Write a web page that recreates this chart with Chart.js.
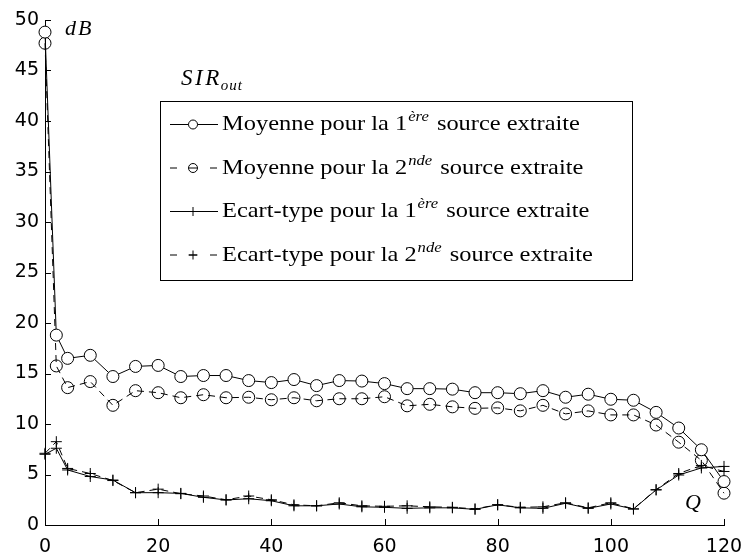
<!DOCTYPE html>
<html>
<head>
<meta charset="utf-8">
<title>SIR out</title>
<script src="https://cdn.jsdelivr.net/npm/chart.js@4"></script>
<style>
  body { margin: 0; background: #fff; }
  #wrap { width: 744px; height: 553px; position: relative; }
</style>
</head>
<body>
<div id="wrap"><canvas id="chart" width="744" height="553"></canvas></div>
<script>
// Q values (x axis)
const qValues = [0, 2, 4, 8, 12, 16, 20, 24, 28, 32, 36, 40, 44, 48, 52, 56, 60, 64, 68, 72, 76, 80, 84, 88, 92, 96, 100, 104, 108, 112, 116, 120];

// SIR_out in dB
const mean1 = [48.8, 18.8, 16.5, 16.8, 14.7, 15.7, 15.8, 14.7, 14.8, 14.8, 14.3, 14.1, 14.4, 13.8, 14.3, 14.25, 14.0, 13.5, 13.5, 13.45, 13.1, 13.1, 13.0, 13.3, 12.65, 12.95, 12.45, 12.35, 11.15, 9.6, 7.45, 4.3];
const mean2 = [47.7, 15.75, 13.6, 14.2, 11.85, 13.3, 13.1, 12.6, 12.9, 12.6, 12.65, 12.4, 12.6, 12.3, 12.5, 12.5, 12.7, 11.8, 11.95, 11.7, 11.55, 11.6, 11.3, 11.85, 11.0, 11.3, 10.9, 10.9, 9.9, 8.2, 6.4, 3.15];
const std1 = [7.0, 7.6, 5.45, 4.8, 4.45, 3.2, 3.2, 3.13, 2.74, 2.48, 2.6, 2.4, 1.9, 1.9, 2.08, 1.8, 1.75, 1.65, 1.7, 1.7, 1.55, 2.0, 1.7, 1.65, 2.15, 1.65, 2.08, 1.58, 3.47, 4.95, 5.65, 5.8];
const std2 = [7.1, 8.25, 5.6, 5.1, 4.4, 3.2, 3.55, 3.1, 2.87, 2.5, 2.87, 2.5, 2.0, 1.9, 2.2, 1.9, 1.85, 1.9, 1.8, 1.75, 1.6, 2.0, 1.75, 1.8, 2.2, 1.7, 2.2, 1.6, 3.5, 5.1, 5.9, 5.3];

const xTicks = [0, 20, 40, 60, 80, 100, 120];
const yTicks = [0, 5, 10, 15, 20, 25, 30, 35, 40, 45, 50];

// legend rows: [main text, superscript, rest, dashed?, marker]
const legendRows = [
  ['Moyenne pour la 1', 'ère', ' source extraite', false, 'circle'],
  ['Moyenne pour la 2', 'nde', ' source extraite', true, 'circle'],
  ['Ecart-type pour la 1', 'ère', ' source extraite', false, 'cross'],
  ['Ecart-type pour la 2', 'nde', ' source extraite', true, 'cross']
];

const pts = arr => qValues.map((q, i) => ({ x: q, y: arr[i] }));
const DASH = [7, 5];
const SERIF = '"Liberation Serif", "DejaVu Serif", serif';
const TEXT_SX = 1.11; // legend text is wider than Times

const datasets = [
  { label: 'mean1', data: pts(mean1), borderDash: [], pointStyle: 'circle', pointRadius: 6, pointBackgroundColor: '#fff' },
  { label: 'mean2', data: pts(mean2), borderDash: DASH, pointStyle: 'circle', pointRadius: 6, pointBackgroundColor: 'rgba(0,0,0,0)' },
  { label: 'std1', data: pts(std1), borderDash: [], pointStyle: 'cross', pointRadius: 5.5, pointBackgroundColor: 'rgba(0,0,0,0)' },
  { label: 'std2', data: pts(std2), borderDash: DASH, pointStyle: 'cross', pointRadius: 5.5, pointBackgroundColor: 'rgba(0,0,0,0)' }
].map(d => Object.assign(d, {
  borderColor: '#000', borderWidth: 1, pointBorderColor: '#000', pointBorderWidth: 1,
  tension: 0, fill: false, clip: false, pointHoverRadius: 6
}));

function drawMarker(ctx, style, x, y, r) {
  ctx.beginPath();
  if (style === 'circle') {
    ctx.arc(x, y, r, 0, Math.PI * 2);
  } else {
    ctx.moveTo(x - r, y); ctx.lineTo(x + r, y);
    ctx.moveTo(x, y - r); ctx.lineTo(x, y + r);
  }
  ctx.stroke();
}

// text drawn stretched horizontally, returns advance in px
function wideText(ctx, str, x, y, sx) {
  ctx.save();
  ctx.translate(x, y);
  ctx.scale(sx, 1);
  ctx.fillText(str, 0, 0);
  const w = ctx.measureText(str).width * sx;
  ctx.restore();
  return w;
}

// math italic letters with extra spacing
function mathText(ctx, str, x, y, gap) {
  for (const ch of str) {
    ctx.fillText(ch, x, y);
    x += ctx.measureText(ch).width + gap;
  }
  return x;
}

const decorations = {
  id: 'decorations',
  afterDraw(chart) {
    const ctx = chart.ctx;
    const xs = chart.scales.x, ys = chart.scales.y;
    const area = chart.chartArea;
    ctx.save();
    ctx.strokeStyle = '#000';
    ctx.lineWidth = 1;
    ctx.setLineDash([]);
    // inward ticks
    ctx.beginPath();
    yTicks.forEach(v => {
      const py = Math.round(ys.getPixelForValue(v)) + 0.5;
      ctx.moveTo(area.left, py); ctx.lineTo(area.left + 6, py);
    });
    xTicks.forEach(v => {
      const px = Math.round(xs.getPixelForValue(v)) + 0.5;
      ctx.moveTo(px, area.bottom); ctx.lineTo(px, area.bottom - 6);
    });
    ctx.stroke();

    // axis annotations
    ctx.fillStyle = '#000';
    ctx.textBaseline = 'alphabetic';
    ctx.textAlign = 'left';
    ctx.font = 'italic 22px ' + SERIF;
    mathText(ctx, 'dB', 65, 35, 2);
    mathText(ctx, 'Q', 685, 509, 0);
    ctx.font = 'italic 23px ' + SERIF;
    const end = mathText(ctx, 'SIR', 181, 85, 2.5);
    ctx.font = 'italic 15px ' + SERIF;
    mathText(ctx, 'out', end - 1, 90, 1);

    // legend box
    const bx = 160.5, by = 101.5, bw = 472, bh = 179;
    ctx.fillStyle = '#fff';
    ctx.fillRect(bx, by, bw, bh);
    ctx.strokeRect(bx, by, bw, bh);
    const baselines = [130, 173.5, 217, 260.5];
    legendRows.forEach((row, i) => {
      const base = baselines[i];
      const ly = base - 5.5;
      ctx.beginPath();
      if (row[3]) {
        ctx.moveTo(170, ly); ctx.lineTo(177, ly);
        ctx.moveTo(189, ly); ctx.lineTo(197, ly);
        ctx.moveTo(210, ly); ctx.lineTo(217, ly);
      } else {
        ctx.moveTo(170, ly); ctx.lineTo(218, ly);
      }
      ctx.stroke();
      if (row[4] === 'circle') {
        if (!row[3]) { ctx.fillStyle = '#fff'; ctx.beginPath(); ctx.arc(193, ly, 4.5, 0, Math.PI * 2); ctx.fill(); }
        drawMarker(ctx, 'circle', 193, ly, 4.5);
      } else {
        drawMarker(ctx, 'cross', 193, ly, 4.5);
      }
      ctx.fillStyle = '#000';
      let x = 222;
      ctx.font = '22px ' + SERIF;
      x += wideText(ctx, row[0], x, base, TEXT_SX) + 1;
      ctx.font = 'italic 15px ' + SERIF;
      x += wideText(ctx, row[1], x, base - 9, TEXT_SX) + 2;
      ctx.font = '22px ' + SERIF;
      wideText(ctx, row[2], x, base, TEXT_SX);
    });
    ctx.restore();
  }
};

new Chart(document.getElementById('chart'), {
  type: 'line',
  data: { datasets },
  options: {
    responsive: false,
    animation: false,
    events: [],
    layout: { padding: { left: 0, right: 20, top: 20, bottom: 0 } },
    plugins: { legend: { display: false }, tooltip: { enabled: false } },
    scales: {
      x: {
        type: 'linear', min: 0, max: 120,
        afterBuildTicks: s => { s.ticks = xTicks.map(v => ({ value: v })); },
        afterFit: s => { s.height = 28; s.paddingLeft = 0; s.paddingRight = 0; },
        grid: { drawOnChartArea: false, drawTicks: false },
        border: { display: true, color: '#000', width: 1 },
        ticks: { color: '#000', padding: 11, maxRotation: 0, font: { family: '"DejaVu Sans"', size: 19 } }
      },
      y: {
        type: 'linear', min: 0, max: 50,
        afterBuildTicks: s => { s.ticks = yTicks.map(v => ({ value: v })); },
        afterFit: s => { s.width = 45; s.paddingTop = 0; s.paddingBottom = 0; },
        grid: { drawOnChartArea: false, drawTicks: false },
        border: { display: true, color: '#000', width: 1 },
        ticks: { color: '#000', padding: 6, font: { family: '"DejaVu Sans"', size: 19 } }
      }
    }
  },
  plugins: [decorations]
});
</script>
</body>
</html>
